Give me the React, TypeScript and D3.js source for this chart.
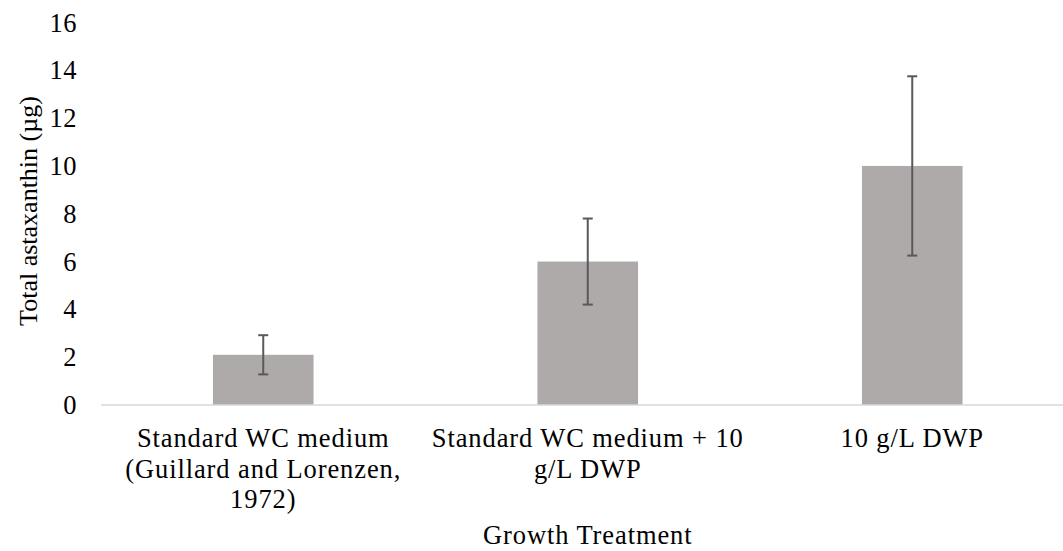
import React, { useEffect, useRef } from 'react';
import * as d3 from 'd3';

// chart data
const categories = ['Standard WC medium (Guillard and Lorenzen, 1972)', 'Standard WC medium + 10 g/L DWP', '10 g/L DWP'];
const categoryLines = [
  ['Standard WC medium', '(Guillard and Lorenzen,', '1972)'],
  ['Standard WC medium + 10', 'g/L DWP'],
  ['10 g/L DWP'],
];
const means = [2.1, 6.0, 10.0];
const errors = [0.82, 1.8, 3.75];
const yTicks = [0, 2, 4, 6, 8, 10, 12, 14, 16];

const W = 1063;
const H = 551;

export default function App() {
  const ref = useRef<SVGSVGElement | null>(null);

  useEffect(() => {
    const svg = d3.select(ref.current);
    svg.selectAll('*').remove();

    const font = '"Liberation Serif", "Times New Roman", serif';

    const x = d3.scaleBand<string>()
      .domain(categories)
      .range([101, 1074.5])
      .paddingInner(0.69)
      .paddingOuter(0.345);

    const y = d3.scaleLinear().domain([0, 16]).range([405, 22.5]);

    // y tick labels
    svg.append('g')
      .selectAll('text')
      .data(yTicks)
      .enter()
      .append('text')
      .attr('x', 77)
      .attr('y', d => y(d) + 9)
      .attr('text-anchor', 'end')
      .attr('font-family', font)
      .attr('font-size', 26.5)
      .attr('letter-spacing', 0.5)
      .attr('fill', '#000')
      .text(d => d);

    // bars
    svg.append('g')
      .selectAll('rect')
      .data(means)
      .enter()
      .append('rect')
      .attr('x', (d, i) => x(categories[i]) as number)
      .attr('y', d => y(d))
      .attr('width', x.bandwidth())
      .attr('height', d => y(0) - y(d))
      .attr('fill', '#aeaaaa');

    // x axis line
    svg.append('line')
      .attr('x1', 101)
      .attr('x2', W)
      .attr('y1', y(0))
      .attr('y2', y(0))
      .attr('stroke', '#d9d9d9')
      .attr('stroke-width', 1.5);

    // error bars
    const eb = svg.append('g')
      .attr('stroke', '#595959')
      .attr('stroke-width', 2)
      .attr('fill', 'none');
    means.forEach((m, i) => {
      const cx = (x(categories[i]) as number) + x.bandwidth() / 2;
      const top = y(m + errors[i]);
      const bot = y(m - errors[i]);
      eb.append('line').attr('x1', cx).attr('x2', cx).attr('y1', top).attr('y2', bot);
      eb.append('line').attr('x1', cx - 5).attr('x2', cx + 5).attr('y1', top).attr('y2', top);
      eb.append('line').attr('x1', cx - 5).attr('x2', cx + 5).attr('y1', bot).attr('y2', bot);
    });

    // category labels
    const cat = svg.append('g')
      .selectAll('text')
      .data(categoryLines)
      .enter()
      .append('text')
      .attr('text-anchor', 'middle')
      .attr('font-family', font)
      .attr('font-size', 26.5)
      .attr('letter-spacing', 0.9)
      .attr('fill', '#000');
    cat.each(function (lines, i) {
      const cx = (x(categories[i]) as number) + x.bandwidth() / 2;
      d3.select(this)
        .selectAll('tspan')
        .data(lines)
        .enter()
        .append('tspan')
        .attr('x', cx)
        .attr('y', (d, j) => 447 + j * 30.5)
        .text(d => d);
    });

    // axis titles
    svg.append('text')
      .attr('x', (x(categories[1]) as number) + x.bandwidth() / 2)
      .attr('y', 544)
      .attr('text-anchor', 'middle')
      .attr('font-family', font)
      .attr('font-size', 26.5)
      .attr('letter-spacing', 0.9)
      .attr('fill', '#000')
      .text('Growth Treatment');

    svg.append('text')
      .attr('transform', 'translate(37, 211) rotate(-90)')
      .attr('text-anchor', 'middle')
      .attr('font-family', font)
      .attr('font-size', 26)
      .attr('fill', '#000')
      .text('Total astaxanthin (µg)');
  }, []);

  return (
    <svg
      ref={ref}
      width={W}
      height={H}
      style={{ position: 'absolute', left: 0, top: 0, background: '#fff' }}
    />
  );
}
